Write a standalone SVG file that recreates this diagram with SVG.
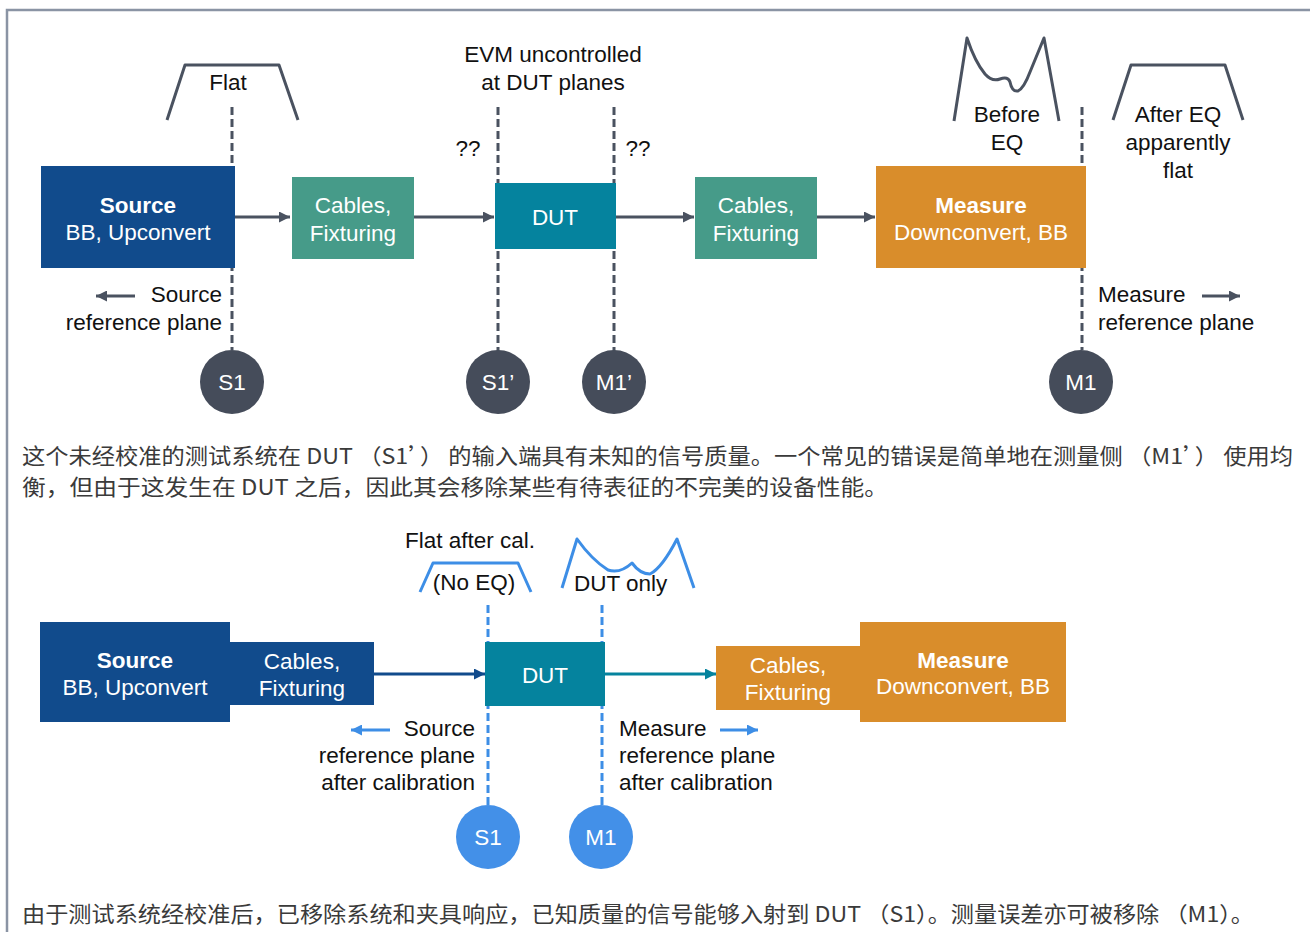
<svg xmlns="http://www.w3.org/2000/svg" width="1310" height="932" viewBox="0 0 1310 932">
<defs>
<style>
.lbl{font-family:"Liberation Sans",Arial,sans-serif;font-size:22.5px;fill:#111;}
.w{fill:#fff;}
.b{font-weight:bold;}
.m{text-anchor:middle;}
.e{text-anchor:end;}
.cn{font-family:"Noto Sans CJK SC",sans-serif;font-size:21.5px;fill:#3a3a3a;}
.dg{stroke:#4A5260;stroke-width:3;stroke-dasharray:8 4;fill:none;}
.db{stroke:#3D8EE6;stroke-width:3;stroke-dasharray:8 4;fill:none;}
.curve{stroke:#4A5260;stroke-width:3;fill:none;stroke-linejoin:round;}
.curveb{stroke:#3D8EE6;stroke-width:3;fill:none;stroke-linejoin:round;}
.cg{fill:#454C5A;}
.cb{fill:#4390E8;}
</style>
<marker id="ag" viewBox="0 0 10 10" refX="10" refY="5" markerWidth="11" markerHeight="11" markerUnits="userSpaceOnUse" orient="auto"><path d="M0,0 L10,5 L0,10 z" fill="#4A5260"/></marker>
<marker id="ab" viewBox="0 0 10 10" refX="10" refY="5" markerWidth="11" markerHeight="11" markerUnits="userSpaceOnUse" orient="auto"><path d="M0,0 L10,5 L0,10 z" fill="#114B8C"/></marker>
<marker id="at" viewBox="0 0 10 10" refX="10" refY="5" markerWidth="11" markerHeight="11" markerUnits="userSpaceOnUse" orient="auto"><path d="M0,0 L10,5 L0,10 z" fill="#05839E"/></marker>
<marker id="al" viewBox="0 0 10 10" refX="10" refY="5" markerWidth="11" markerHeight="11" markerUnits="userSpaceOnUse" orient="auto"><path d="M0,0 L10,5 L0,10 z" fill="#3D8EE6"/></marker>
</defs>
<rect x="0" y="0" width="1310" height="932" fill="#fff"/>
<path d="M7,932 V10 H1310" fill="none" stroke="#8A94A4" stroke-width="2.5"/>

<!-- TOP SECTION -->
<g id="reference-lines-top">
<line class="dg" x1="232" y1="107" x2="232" y2="350"/>
<line class="dg" x1="498" y1="107" x2="498" y2="352"/>
<line class="dg" x1="614" y1="107" x2="614" y2="352"/>
<line class="dg" x1="1082" y1="107" x2="1082" y2="350"/>
</g>
<g id="connectors-top">
<line x1="235" y1="217" x2="290" y2="217" stroke="#4A5260" stroke-width="3" marker-end="url(#ag)"/>
<line x1="414" y1="217" x2="494" y2="217" stroke="#4A5260" stroke-width="3" marker-end="url(#ag)"/>
<line x1="616" y1="217" x2="694" y2="217" stroke="#4A5260" stroke-width="3" marker-end="url(#ag)"/>
<line x1="817" y1="217" x2="875" y2="217" stroke="#4A5260" stroke-width="3" marker-end="url(#ag)"/>
<line x1="135" y1="296" x2="96" y2="296" stroke="#4A5260" stroke-width="3" marker-end="url(#ag)"/>
<line x1="1202" y1="296" x2="1240" y2="296" stroke="#4A5260" stroke-width="3" marker-end="url(#ag)"/>
</g>
<g id="source-top">
<rect x="41" y="166" width="194" height="102" fill="#114B8C"/>
<text class="lbl w b m" x="138" y="213">Source</text>
<text class="lbl w m" x="138" y="240">BB, Upconvert</text>
</g>
<g id="cables1-top">
<rect x="292" y="177" width="122" height="82" fill="#469B89"/>
<text class="lbl w m" x="353" y="213">Cables,</text>
<text class="lbl w m" x="353" y="241">Fixturing</text>
</g>
<g id="dut-top">
<rect x="495" y="183" width="121" height="66" fill="#05839E"/>
<text class="lbl w m" x="555" y="225">DUT</text>
</g>
<g id="cables2-top">
<rect x="695" y="177" width="122" height="82" fill="#469B89"/>
<text class="lbl w m" x="756" y="213">Cables,</text>
<text class="lbl w m" x="756" y="241">Fixturing</text>
</g>
<g id="measure-top">
<rect x="876" y="166" width="210" height="102" fill="#D98D2B"/>
<text class="lbl w b m" x="981" y="213">Measure</text>
<text class="lbl w m" x="981" y="240">Downconvert, BB</text>
</g>
<g id="flat-top">
<path class="curve" d="M167,120 L185,65 L279,65 L298,120"/>
<text class="lbl m" x="228" y="90">Flat</text>
</g>
<g id="evm-label">
<text class="lbl m" x="553" y="62">EVM uncontrolled</text>
<text class="lbl m" x="553" y="90">at DUT planes</text>
<text class="lbl m" x="468" y="156">??</text>
<text class="lbl m" x="638" y="156">??</text>
</g>
<g id="before-eq">
<path class="curve" d="M954,121 L967,38 Q975,62 985,74 Q992,82 1000,79 Q1008,76 1010,82 Q1012,92 1018,91 Q1024,88 1030,72 L1044,38 L1059,121"/>
<text class="lbl m" x="1007" y="122">Before</text>
<text class="lbl m" x="1007" y="150">EQ</text>
</g>
<g id="after-eq">
<path class="curve" d="M1113,120 L1131,65 L1225,65 L1243,120"/>
<text class="lbl m" x="1178" y="122">After EQ</text>
<text class="lbl m" x="1178" y="150">apparently</text>
<text class="lbl m" x="1178" y="178">flat</text>
</g>
<g id="source-ref-top">
<text class="lbl e" x="222" y="302">Source</text>
<text class="lbl e" x="222" y="330">reference plane</text>
</g>
<g id="measure-ref-top">
<text class="lbl" x="1098" y="302">Measure</text>
<text class="lbl" x="1098" y="330">reference plane</text>
</g>
<g id="s1-top"><circle class="cg" cx="232" cy="382" r="32"/><text class="lbl w m" x="232" y="390">S1</text></g>
<g id="s1p-top"><circle class="cg" cx="498" cy="382" r="32"/><text class="lbl w m" x="498" y="390">S1’</text></g>
<g id="m1p-top"><circle class="cg" cx="614" cy="382" r="32"/><text class="lbl w m" x="614" y="390">M1’</text></g>
<g id="m1-top"><circle class="cg" cx="1081" cy="382" r="32"/><text class="lbl w m" x="1081" y="390">M1</text></g>

<g id="caption-top">
<text class="cn" x="22" y="464" textLength="1271" lengthAdjust="spacingAndGlyphs">这个未经校准的测试系统在 DUT （S1’） 的输入端具有未知的信号质量。一个常见的错误是简单地在测量侧 （M1’） 使用均</text>
<text class="cn" x="22" y="495" textLength="866" lengthAdjust="spacingAndGlyphs">衡，但由于这发生在 DUT 之后，因此其会移除某些有待表征的不完美的设备性能。</text>
</g>

<!-- BOTTOM SECTION -->
<g id="reference-lines-bottom">
<line class="db" x1="488" y1="605" x2="488" y2="806"/>
<line class="db" x1="602" y1="605" x2="602" y2="806"/>
</g>
<g id="connectors-bottom">
<line x1="374" y1="674" x2="485" y2="674" stroke="#114B8C" stroke-width="3" marker-end="url(#ab)"/>
<line x1="605" y1="674" x2="716" y2="674" stroke="#05839E" stroke-width="3" marker-end="url(#at)"/>
<line x1="390" y1="730" x2="351" y2="730" stroke="#3D8EE6" stroke-width="3" marker-end="url(#al)"/>
<line x1="720" y1="730" x2="758" y2="730" stroke="#3D8EE6" stroke-width="3" marker-end="url(#al)"/>
</g>
<g id="source-bottom">
<rect x="40" y="622" width="190" height="100" fill="#114B8C"/>
<text class="lbl w b m" x="135" y="668">Source</text>
<text class="lbl w m" x="135" y="695">BB, Upconvert</text>
</g>
<g id="cables-source-bottom">
<rect x="229" y="642" width="145" height="63" fill="#114B8C"/>
<text class="lbl w m" x="302" y="669">Cables,</text>
<text class="lbl w m" x="302" y="696">Fixturing</text>
</g>
<g id="dut-bottom">
<rect x="485" y="642" width="120" height="64" fill="#05839E"/>
<text class="lbl w m" x="545" y="683">DUT</text>
</g>
<g id="cables-measure-bottom">
<rect x="716" y="646" width="145" height="64" fill="#D98D2B"/>
<text class="lbl w m" x="788" y="673">Cables,</text>
<text class="lbl w m" x="788" y="700">Fixturing</text>
</g>
<g id="measure-bottom">
<rect x="860" y="622" width="206" height="100" fill="#D98D2B"/>
<text class="lbl w b m" x="963" y="668">Measure</text>
<text class="lbl w m" x="963" y="694">Downconvert, BB</text>
</g>
<g id="flat-after-cal">
<text class="lbl m" x="470" y="548">Flat after cal.</text>
<path class="curveb" d="M420,592 L433,563 L518,563 L531,592"/>
<text class="lbl m" x="474" y="590">(No EQ)</text>
</g>
<g id="dut-only">
<path class="curveb" d="M562,588 L577,539 Q592,560 608,570 Q620,574 632,563 Q640,574 650,574 Q662,568 677,539 L694,588"/>
<text class="lbl" x="574" y="591">DUT only</text>
</g>
<g id="source-ref-bottom">
<text class="lbl e" x="475" y="736">Source</text>
<text class="lbl e" x="475" y="763">reference plane</text>
<text class="lbl e" x="475" y="790">after calibration</text>
</g>
<g id="measure-ref-bottom">
<text class="lbl" x="619" y="736">Measure</text>
<text class="lbl" x="619" y="763">reference plane</text>
<text class="lbl" x="619" y="790">after calibration</text>
</g>
<g id="s1-bottom"><circle class="cb" cx="488" cy="837" r="32"/><text class="lbl w m" x="488" y="845">S1</text></g>
<g id="m1-bottom"><circle class="cb" cx="601" cy="837" r="32"/><text class="lbl w m" x="601" y="845">M1</text></g>

<g id="caption-bottom">
<text class="cn" x="22" y="922" textLength="1232" lengthAdjust="spacingAndGlyphs">由于测试系统经校准后，已移除系统和夹具响应，已知质量的信号能够入射到 DUT （S1）。测量误差亦可被移除 （M1）。</text>
</g>
</svg>
